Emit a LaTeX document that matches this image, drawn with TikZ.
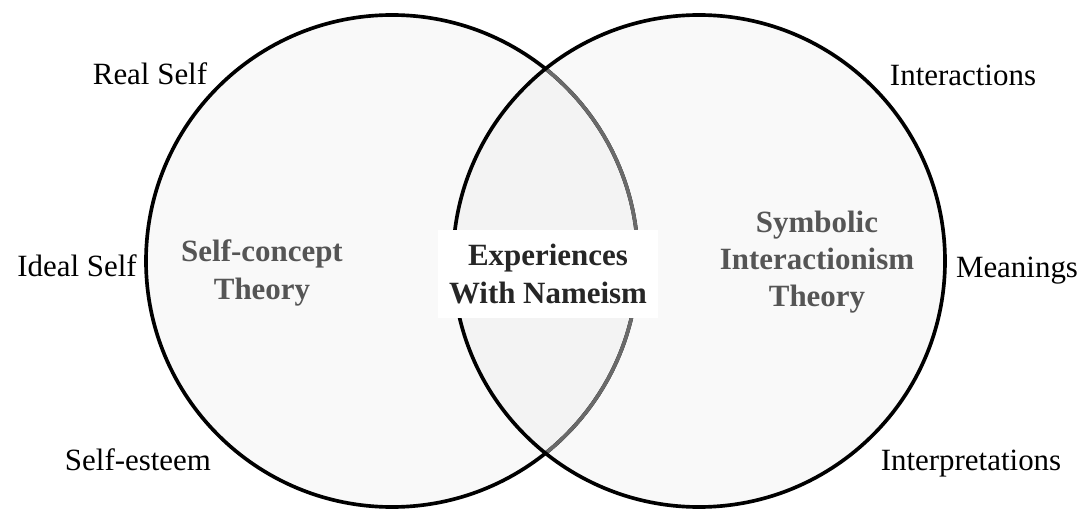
\documentclass[tikz,border=0pt]{standalone}
\usepackage{fontspec}
\setmainfont{Liberation Serif}
\usetikzlibrary{positioning}

\definecolor{ringfill}{HTML}{F9F9F9}
\definecolor{overlapfill}{HTML}{F3F3F3}
\definecolor{theorygray}{HTML}{555555}
\definecolor{hiddenline}{HTML}{6A6A6A}

\tikzset{
  ring/.style={line width=2.6pt},
  aspect/.style={font=\fontsize{22}{26}\selectfont, anchor=base, inner sep=0pt},
  theory/.style={font=\fontsize{22}{26.5}\selectfont\bfseries, text=theorygray, align=center, inner sep=0pt},
  core/.style={font=\fontsize{22}{26.5}\selectfont\bfseries, text=black!85, align=center, fill=white,
    minimum width=5.5cm, minimum height=2.2cm}
}

\begin{document}
\begin{tikzpicture}[x=0.025cm, y=-0.025cm]
    \path[use as bounding box] (0,0) rectangle (1084,510);

% the two circles
\fill[ringfill] (392,261) circle [radius=246];
\fill[ringfill] (699,261) circle [radius=246];
\begin{scope}
  \clip (392,261) circle [radius=246];
  \fill[overlapfill] (699,261) circle [radius=246];
\end{scope}
\draw[ring] (392,261) circle [radius=246];
\begin{scope}
  \clip (699,261) circle [radius=246];
  \draw[ring, hiddenline] (392,261) circle [radius=246];
\end{scope}
\draw[ring] (699,261) circle [radius=246];

% centre
\node[core] (core) at (548,274) {Experiences\\With Nameism};

% theories
\node[theory] (selfconcept) at (262,273) {Self-concept\\Theory};
\node[theory] (symbolic) at (817,262) {Symbolic\\Interactionism\\Theory};

% aspects
\foreach \x/\y/\name/\txt in {150/85/real/Real Self, 77/277/ideal/Ideal Self, 138/470/esteem/Self-esteem,
    963/86/interact/Interactions, 1017/278/meaning/Meanings, 971/470/interp/Interpretations}
  \node[aspect] (\name) at (\x,\y) {\txt};
\end{tikzpicture}
\end{document}
